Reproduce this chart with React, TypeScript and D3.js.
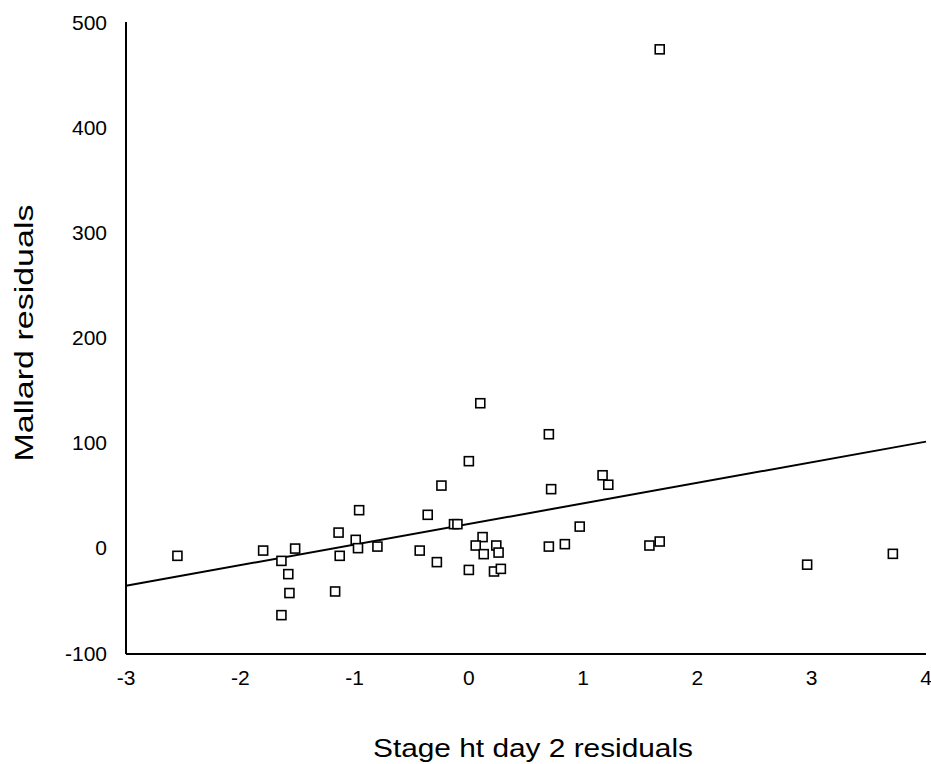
import React, { useEffect, useRef } from 'react';
import * as d3 from 'd3';

// residuals
const xVals = [
  -2.55, -1.8, -1.64, -1.52, -1.58, -1.57, -1.64, -1.17, -1.13, -1.14,
  -0.96, -0.99, -0.97, -0.8, -0.43, -0.36, -0.28, -0.24, -0.13, -0.1,
  0.1, 0.7, 0.0, 1.17, 1.22, 0.72, 0.97, 0.12, 0.06, 0.24,
  0.13, 0.26, 0.7, 0.84, 0.0, 0.22, 0.28, 1.58, 1.67, 2.96,
  3.71, 1.67,
];
const yVals = [
  -7.6, -2.6, -12.4, -0.7, -25, -43, -64, -41.5, -7.6, 14.5,
  35.8, 7.6, -0.3, 1.2, -2.6, 31.4, -13.6, 59.2, 22.5, 22.5,
  137.5, 108, 82.4, 69, 60, 55.8, 20.2, 10.2, 2.2, 2.2,
  -6, -4.5, 1.2, 3.5, -21, -22.5, -20, 2.2, 6, -16,
  -5.7, 474,
];

// fitted line
const intercept = 22.7;
const slope = 19.57;

const xTicks = [-3, -2, -1, 0, 1, 2, 3, 4];
const yTicks = [-100, 0, 100, 200, 300, 400, 500];

const ScatterPlot = () => {
  const svgRef = useRef<SVGSVGElement>(null);

  useEffect(() => {
    const svg = d3.select(svgRef.current);
    svg.selectAll('*').remove();

    const xScale = d3.scaleLinear().domain([-3, 4]).range([126, 926]);
    const yScale = d3.scaleLinear().domain([-100, 500]).range([653, 22]);

    const font = '"Liberation Sans", Arial, sans-serif';

    // axes (no tick marks in the original)
    svg.append('line')
      .attr('x1', xScale(-3)).attr('x2', xScale(-3))
      .attr('y1', yScale(500)).attr('y2', yScale(-100) + 1)
      .attr('stroke', 'black').attr('stroke-width', 2);
    svg.append('line')
      .attr('x1', xScale(-3)).attr('x2', xScale(4))
      .attr('y1', yScale(-100) + 1).attr('y2', yScale(-100) + 1)
      .attr('stroke', 'black').attr('stroke-width', 2);

    svg.selectAll('text.ytick')
      .data(yTicks)
      .enter()
      .append('text')
      .attr('class', 'ytick')
      .attr('x', 107)
      .attr('y', (d) => yScale(d) + 7.5)
      .attr('text-anchor', 'end')
      .style('font-family', font)
      .style('font-size', '21px')
      .text((d) => d);

    svg.selectAll('text.xtick')
      .data(xTicks)
      .enter()
      .append('text')
      .attr('class', 'xtick')
      .attr('x', (d) => xScale(d))
      .attr('y', 685)
      .attr('text-anchor', 'middle')
      .style('font-family', font)
      .style('font-size', '21px')
      .text((d) => d);

    // regression line
    const line = d3.line<number>()
      .x((d) => xScale(d))
      .y((d) => yScale(intercept + slope * d));
    svg.append('path')
      .datum([-3, 4])
      .attr('d', line)
      .attr('fill', 'none')
      .attr('stroke', 'black')
      .attr('stroke-width', 2);

    const s = 9;
    svg.selectAll('rect.pt')
      .data(xVals)
      .enter()
      .append('rect')
      .attr('class', 'pt')
      .attr('x', (d) => xScale(d) - s / 2)
      .attr('y', (d, i) => yScale(yVals[i]) - s / 2)
      .attr('width', s)
      .attr('height', s)
      .attr('fill', 'white')
      .attr('stroke', 'black')
      .attr('stroke-width', 1.6);

    svg.append('text')
      .attr('x', 533)
      .attr('y', 757)
      .attr('text-anchor', 'middle')
      .attr('textLength', 320)
      .attr('lengthAdjust', 'spacingAndGlyphs')
      .style('font-family', font)
      .style('font-size', '25px')
      .text('Stage ht day 2 residuals');

    svg.append('text')
      .attr('transform', 'translate(33,333) rotate(-90)')
      .attr('text-anchor', 'middle')
      .attr('textLength', 257)
      .attr('lengthAdjust', 'spacingAndGlyphs')
      .style('font-family', font)
      .style('font-size', '25px')
      .text('Mallard residuals');
  }, []);

  return (
    <svg
      ref={svgRef}
      width={931}
      height={764}
      style={{ position: 'absolute', left: 0, top: 0, background: 'white' }}
    ></svg>
  );
};

export default function App() {
  return <ScatterPlot />;
}
